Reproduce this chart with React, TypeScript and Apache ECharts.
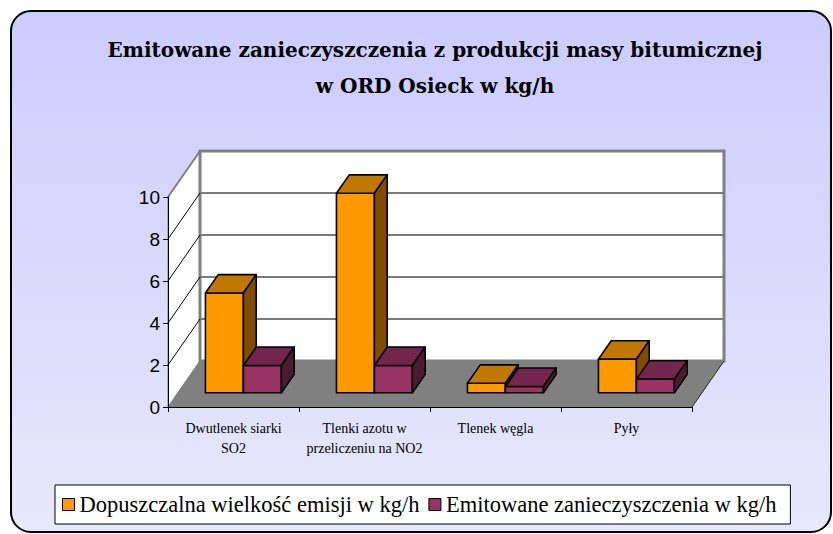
import React, { useEffect, useRef } from "react";
import * as echarts from "echarts";

const categories = [
  "Dwutlenek siarki\nSO2",
  "Tlenki azotu w\nprzeliczeniu na NO2",
  "Tlenek węgla",
  "Pyły",
];
const allowedEmission = [4.75, 9.5, 0.45, 1.6];
const emittedPollution = [1.3, 1.3, 0.3, 0.65];
const seriesNames = [
  "Dopuszczalna wielkość emisji w kg/h",
  "Emitowane zanieczyszczenia w kg/h",
];
const yMin = 0;
const yMax = 10;
const yStep = 2;
const titleLines = [
  "Emitowane zanieczyszczenia z produkcji masy bitumicznej",
  "w ORD Osieck w kg/h",
];

// 3D projection parameters (pixels per full depth of the plot box)
const DEPTH_X = 32;
const DEPTH_Y = -46;
const BAR_D0 = 0.31;
const BAR_D1 = 0.71;
const BAR_W = 0.29;

const palettes = [
  { front: "#FF9900", top: "#C07800", side: "#804C00" },
  { front: "#993366", top: "#73264D", side: "#4D1A33" },
];

function wallsRenderItem(params: any, api: any) {
  const band = api.size([1, 0])[0];
  const n = categories.length;
  const xL = api.coord([0, yMin])[0] - band / 2;
  const xR = api.coord([n - 1, yMin])[0] + band / 2;
  const y0 = api.coord([0, yMin])[1];
  const yT = api.coord([0, yMax])[1];
  const children: any[] = [];
  children.push({
    type: "polygon",
    shape: {
      points: [
        [xL, y0],
        [xL, yT],
        [xL + DEPTH_X, yT + DEPTH_Y],
        [xL + DEPTH_X, y0 + DEPTH_Y],
      ],
    },
    style: { fill: "#ffffff", stroke: "#808080", lineWidth: 1 },
  });
  children.push({
    type: "rect",
    shape: {
      x: xL + DEPTH_X,
      y: yT + DEPTH_Y,
      width: xR - xL,
      height: y0 - yT,
    },
    style: { fill: "#ffffff", stroke: "#808080", lineWidth: 3 },
  });
  for (let v = yMin + yStep; v < yMax; v += yStep) {
    const yv = api.coord([0, v])[1];
    children.push({
      type: "line",
      shape: {
        x1: xL + DEPTH_X,
        y1: yv + DEPTH_Y,
        x2: xR + DEPTH_X,
        y2: yv + DEPTH_Y,
      },
      style: { stroke: "#7a7a7a", lineWidth: 2 },
    });
  }
  for (let v = yMin + yStep; v <= yMax; v += yStep) {
    const yv = api.coord([0, v])[1];
    children.push({
      type: "line",
      shape: { x1: xL, y1: yv, x2: xL + DEPTH_X, y2: yv + DEPTH_Y },
      style: { stroke: v === yMax ? "#808080" : "#000000", lineWidth: v === yMax ? 2 : 1 },
    });
  }
  children.push({
    type: "polygon",
    shape: {
      points: [
        [xL, y0],
        [xR, y0],
        [xR + DEPTH_X, y0 + DEPTH_Y],
        [xL + DEPTH_X, y0 + DEPTH_Y],
      ],
    },
    style: { fill: "#808080", stroke: "#808080", lineWidth: 1 },
  });
  children.push({
    type: "line",
    shape: { x1: xR, y1: y0, x2: xR + DEPTH_X, y2: y0 + DEPTH_Y },
    style: { stroke: "#333333", lineWidth: 1 },
  });
  return { type: "group", children };
}

function makeBarRenderer(seriesIdx: number) {
  const pal = palettes[seriesIdx];
  return function (params: any, api: any) {
    const cat = api.value(0);
    const val = api.value(1);
    const band = api.size([1, 0])[0];
    const base = api.coord([cat, yMin]);
    const topP = api.coord([cat, val]);
    const w = band * BAR_W;
    const fx = BAR_D0 * DEPTH_X;
    const fy = BAR_D0 * DEPTH_Y;
    const bx = (BAR_D1 - BAR_D0) * DEPTH_X;
    const by = (BAR_D1 - BAR_D0) * DEPTH_Y;
    const x0 = base[0] + (seriesIdx - 1) * w + fx;
    const x1 = x0 + w;
    const yb = base[1] + fy;
    const yt = topP[1] + fy;
    const stroke = { stroke: "#000000", lineWidth: 1.6, lineJoin: "round" };
    return {
      type: "group",
      children: [
        {
          type: "polygon",
          shape: { points: [[x0, yt], [x1, yt], [x1, yb], [x0, yb]] },
          style: { fill: pal.front, ...stroke },
        },
        {
          type: "polygon",
          shape: {
            points: [[x0, yt], [x1, yt], [x1 + bx, yt + by], [x0 + bx, yt + by]],
          },
          style: { fill: pal.top, ...stroke },
        },
        {
          type: "polygon",
          shape: {
            points: [[x1, yt], [x1 + bx, yt + by], [x1 + bx, yb + by], [x1, yb]],
          },
          style: { fill: pal.side, ...stroke },
        },
      ],
    };
  };
}

export default function App() {
  const ref = useRef<HTMLDivElement>(null);
  useEffect(() => {
    if (!ref.current) return;
    const chart = echarts.init(ref.current, undefined, { renderer: "svg" });
    const option: any = {
      animation: false,
      backgroundColor: "#ffffff",
      graphic: [
        {
          type: "rect",
          z: -10,
          silent: true,
          shape: { x: 11, y: 11, width: 820, height: 521, r: 20 },
          style: {
            fill: new echarts.graphic.LinearGradient(0, 0, 0, 1, [
              { offset: 0, color: "#CCCCFF" },
              { offset: 1, color: "#E8E8FB" },
            ]),
            stroke: "#000000",
            lineWidth: 2,
          },
        },
      ],
      title: {
        text: titleLines.join("\n"),
        left: 430,
        top: 27,
        textAlign: "center",
        textStyle: {
          fontFamily: "DejaVu Serif",
          fontWeight: "bold",
          fontSize: 20,
          lineHeight: 36,
          color: "#000000",
        },
      },
      legend: {
        left: 55,
        top: 485,
        orient: "horizontal",
        backgroundColor: "#ffffff",
        borderColor: "#000000",
        borderWidth: 1,
        padding: [8, 14, 8, 7],
        itemGap: 9,
        itemWidth: 12,
        itemHeight: 12,
        icon: "rect",
        itemStyle: { borderColor: "#000000", borderWidth: 1 },
        textStyle: {
          fontFamily: "Liberation Serif",
          fontSize: 22.5,
          color: "#000000",
        },
        data: seriesNames,
      },
      grid: { left: 168, top: 197, width: 524, height: 210 },
      xAxis: {
        type: "category",
        data: categories,
        z: 10,
        boundaryGap: true,
        axisLine: { show: true, lineStyle: { color: "#000000", width: 1 } },
        axisTick: { show: true, length: 5, lineStyle: { color: "#000000" } },
        axisLabel: {
          interval: 0,
          margin: 11,
          fontFamily: "Liberation Serif",
          fontSize: 14,
          lineHeight: 20,
          color: "#000000",
        },
        splitLine: { show: false },
      },
      yAxis: {
        type: "value",
        min: yMin,
        max: yMax,
        interval: yStep,
        z: 10,
        axisLine: { show: true, lineStyle: { color: "#000000", width: 1 } },
        axisTick: { show: true, length: 5, lineStyle: { color: "#000000" } },
        axisLabel: {
          margin: 8,
          fontFamily: "Liberation Sans",
          fontSize: 19,
          color: "#000000",
        },
        splitLine: { show: false },
      },
      series: [
        {
          type: "custom",
          name: "walls",
          z: 1,
          silent: true,
          renderItem: wallsRenderItem,
          data: [[0, 0]],
          encode: { x: 0, y: 1 },
        },
        {
          type: "custom",
          name: seriesNames[0],
          z: 2,
          itemStyle: { color: palettes[0].front },
          renderItem: makeBarRenderer(0),
          data: allowedEmission.map((v, i) => [i, v]),
          encode: { x: 0, y: 1 },
        },
        {
          type: "custom",
          name: seriesNames[1],
          z: 3,
          itemStyle: { color: palettes[1].front },
          renderItem: makeBarRenderer(1),
          data: emittedPollution.map((v, i) => [i, v]),
          encode: { x: 0, y: 1 },
        },
      ],
    };
    chart.setOption(option);
    return () => chart.dispose();
  }, []);
  return (
    <div
      ref={ref}
      style={{ position: "fixed", left: 0, top: 0, width: 833, height: 534 }}
    />
  );
}
